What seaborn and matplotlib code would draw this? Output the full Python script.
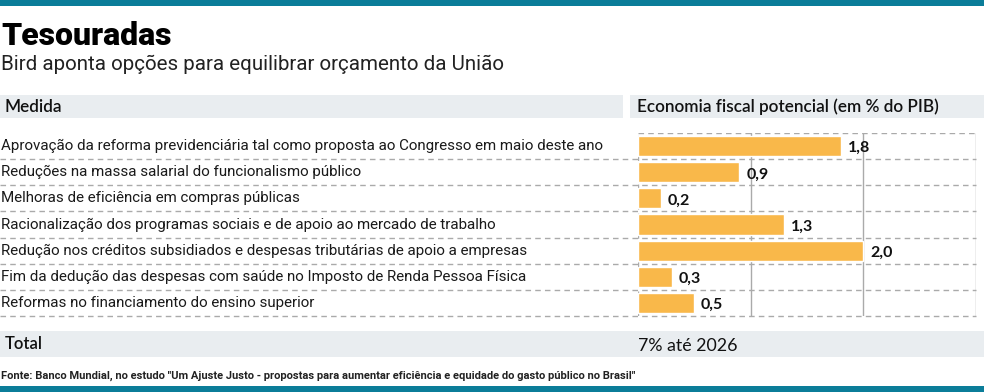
import matplotlib
matplotlib.use("Agg")
import matplotlib.pyplot as plt
import matplotlib.transforms as mtransforms
from matplotlib.patches import Rectangle
from matplotlib.lines import Line2D
import seaborn as sns
import pandas as pd

# ---- data ----
title = "Tesouradas"
subtitle = "Bird aponta opções para equilibrar orçamento da União"
col_left = "Medida"
col_right = "Economia fiscal potencial (em % do PIB)"
medidas = [
    "Aprovação da reforma previdenciária tal como proposta ao Congresso em maio deste ano",
    "Reduções na massa salarial do funcionalismo público",
    "Melhoras de eficiência em compras públicas",
    "Racionalização dos programas sociais e de apoio ao mercado de trabalho",
    "Redução nos créditos subsidiados e despesas tributárias de apoio a empresas",
    "Fim da dedução das despesas com saúde no Imposto de Renda Pessoa Física",
    "Reformas no financiamento do ensino superior",
]
economia = [1.8, 0.9, 0.2, 1.3, 2.0, 0.3, 0.5]
total_label = "Total"
total_value = "7% até 2026"
fonte = 'Fonte: Banco Mundial, no estudo "Um Ajuste Justo - propostas para aumentar eficiência e equidade do gasto público no Brasil"'

W, H = 984, 392
TEAL = "#0b7d99"
ORANGE = "#f9b84a"
BAND = "#e9edf0"
GRID = "#aaaaaa"

sns.set_theme(style="white")
plt.rcParams["font.family"] = ["DejaVu Sans"]

NARROW = ["Roboto", "DejaVu Sans"]
SANS = ["Lato", "DejaVu Sans"]

fig = plt.figure(figsize=(W / 100, H / 100), dpi=100)
fig.patch.set_facecolor("white")


def fx(x):
    return x / W


def fy(y):
    return 1 - y / H


def rect(x0, y0, x1, y1, color):
    fig.patches.append(Rectangle((fx(x0), fy(y1)), fx(x1) - fx(x0), fy(y0) - fy(y1),
                                 transform=fig.transFigure, color=color, zorder=0, lw=0))


# top / bottom teal bars
rect(0, 0, W, 6, TEAL)
rect(0, 386, W, H, TEAL)
# header bands
rect(0, 95, 623, 118, BAND)
rect(630, 95, W, 118, BAND)
# total band
rect(0, 331, W, 357, BAND)

fig.text(fx(1), fy(36), title, fontsize=23, fontweight="black", family=["Roboto", "DejaVu Sans"],
         va="center", ha="left", color="black")
fig.text(fx(1), fy(64), subtitle, fontsize=14.8, fontweight="normal", family=["Roboto", "DejaVu Sans"],
         va="center", ha="left", color="#222222")
fig.text(fx(5), fy(107), col_left, fontsize=12.3, fontweight="semibold", family=SANS,
         va="center", ha="left", color="#111111")
fig.text(fx(637), fy(107), col_right, fontsize=12.3, fontweight="semibold", family=SANS,
         va="center", ha="left", color="#111111")
fig.text(fx(5), fy(344), total_label, fontsize=12, fontweight="semibold", family=SANS,
         va="center", ha="left", color="#111111")
fig.text(fx(638), fy(346), total_value, fontsize=12.8, family=SANS,
         va="center", ha="left", color="#111111")
fig.text(fx(1), fy(376), fonte, fontsize=8.0, fontweight="bold", family=NARROW,
         va="center", ha="left", color="#222222")

# ---- bar axes ----
ax_l, ax_r, ax_t, ax_b = 638, 976, 133, 316
ax = fig.add_axes([fx(ax_l), fy(ax_b), fx(ax_r) - fx(ax_l), fy(ax_t) - fy(ax_b)])
ax.set_facecolor("none")
df = pd.DataFrame({"medida": medidas, "economia": economia})
sns.barplot(data=df, x="economia", y="medida", orient="h", color=ORANGE, saturation=1,
            width=0.77, ax=ax, zorder=2)
ax.set_xlim(0, 3)
ax.set_ylim(len(medidas) - 0.5, -0.5)
ax.set_xlabel("")
ax.set_ylabel("")
ax.set_xticks([])
ax.set_yticks([])
for s in ax.spines.values():
    s.set_visible(False)

DASH = (0, (4, 3))
for xv in [1, 2, 3]:
    ax.axvline(xv, color=GRID, lw=1, zorder=1)
ax.axvline(0, color=GRID, lw=1, ls=DASH, zorder=1)
ax.axhline(-0.5, color=GRID, lw=1, ls=DASH, zorder=1)

blend = mtransforms.blended_transform_factory(fig.transFigure, ax.transData)
for i, (m, v) in enumerate(zip(medidas, economia)):
    ax.text(fx(1), i, m, transform=blend, fontsize=10.9, family=NARROW,
            va="center", ha="left", color="#1a1a1a")
    ax.text(v + 0.06, i + 0.08, f"{v:.1f}".replace(".", ","), fontsize=11.5, fontweight="bold",
            family=SANS, va="center", ha="left", color="#111111", zorder=3)
    ln = Line2D([0, fx(ax_r)], [i + 0.5, i + 0.5], transform=blend, color=GRID, lw=1,
                ls=DASH, zorder=1, clip_on=False)
    ax.add_line(ln)

fig.savefig("out.png", dpi=100, facecolor="white")
